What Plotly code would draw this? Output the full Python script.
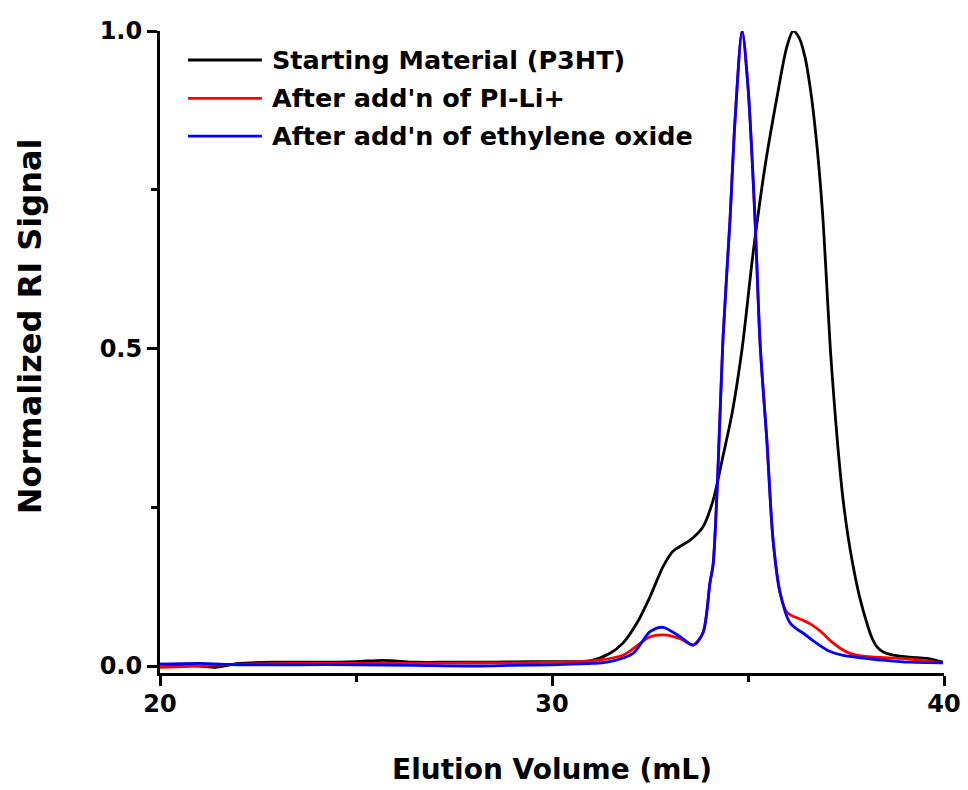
import plotly.graph_objects as go

# ---------------- data ----------------
black_x = [20.0, 20.8, 21.4, 22.0, 23.0, 24.0, 25.0, 25.7, 26.5, 27.5, 28.5, 29.5, 30.3,
           30.97, 31.48, 31.81, 32.17, 32.50, 32.83, 33.09, 33.52, 33.85, 34.11, 34.36,
           34.60, 34.85, 35.13, 35.43, 35.74, 35.99, 36.15, 36.30, 36.45, 36.60, 36.75,
           36.90, 37.00, 37.10, 37.20, 37.30, 37.42, 37.55, 37.68, 37.85, 38.04, 38.15,
           38.29, 38.45, 38.70, 39.13, 39.57, 39.97]
black_y = [0.003, 0.001, -0.002, 0.004, 0.006, 0.006, 0.007, 0.009, 0.006, 0.006, 0.006, 0.007, 0.007,
           0.008, 0.020, 0.036, 0.068, 0.109, 0.156, 0.181, 0.198, 0.219, 0.261, 0.330,
           0.400, 0.500, 0.650, 0.785, 0.896, 0.975, 1.000, 0.990, 0.960, 0.905, 0.825,
           0.715, 0.610, 0.500, 0.415, 0.340, 0.265, 0.205, 0.158, 0.108, 0.066, 0.046,
           0.030, 0.022, 0.017, 0.014, 0.012, 0.006]

red_x = [20.0, 21.0, 22.0, 23.5, 25.0, 26.5, 28.0, 29.0, 30.0, 31.0, 31.81, 32.50, 32.83,
         33.27, 33.60, 33.85, 34.03, 34.11, 34.23, 34.36, 34.54, 34.67, 34.85, 35.00,
         35.18, 35.31, 35.48, 35.64, 35.82, 35.99, 36.20, 36.40, 36.60, 36.90, 37.10,
         37.35, 37.60, 38.00, 38.50, 39.13, 39.97]
red_y = [-0.002, 0.000, 0.003, 0.004, 0.004, 0.004, 0.005, 0.005, 0.006, 0.008, 0.017, 0.046, 0.049,
         0.043, 0.033, 0.052, 0.131, 0.160, 0.304, 0.513, 0.702, 0.860, 1.000, 0.912,
         0.702, 0.506, 0.356, 0.198, 0.115, 0.085, 0.077, 0.072, 0.066, 0.052, 0.040,
         0.028, 0.020, 0.015, 0.013, 0.011, 0.005]

blue_x = [20.0, 21.0, 22.0, 23.5, 25.0, 26.5, 28.0, 29.0, 30.0, 31.0, 31.40, 32.07, 32.50,
          32.83, 33.27, 33.60, 33.85, 34.03, 34.11, 34.23, 34.36, 34.54, 34.67, 34.85,
          35.00, 35.18, 35.31, 35.48, 35.64, 35.82, 36.07, 36.25, 36.40, 36.70, 37.02,
          37.40, 37.86, 38.50, 39.13, 39.97]
blue_y = [0.003, 0.004, 0.002, 0.002, 0.002, 0.001, 0.000, 0.001, 0.002, 0.004, 0.006, 0.020, 0.054,
          0.061, 0.046, 0.033, 0.052, 0.131, 0.160, 0.304, 0.513, 0.702, 0.860, 1.000,
          0.912, 0.702, 0.506, 0.356, 0.198, 0.115, 0.068, 0.058, 0.052, 0.038, 0.025,
          0.017, 0.013, 0.009, 0.006, 0.005]

series_names = ["Starting Material (P3HT)", "After add'n of PI-Li+", "After add'n of ethylene oxide"]
series_colors = ["#000000", "#ff0000", "#0000ff"]
x_ticks = [20, 30, 40]
y_ticks = [0.0, 0.5, 1.0]
x_title = "Elution Volume (mL)"
y_title = "Normalized RI Signal"

FONT = "DejaVu Sans"

fig = go.Figure()
for xs, ys, name, col in zip([black_x, red_x, blue_x], [black_y, red_y, blue_y],
                             series_names, series_colors):
    fig.add_trace(go.Scatter(x=xs, y=ys, mode="lines", name=name,
                             line=dict(color=col, width=2.8, shape="spline", smoothing=0.8),
                             showlegend=False))

# manual legend (lines + labels in paper coordinates)
leg_y = [0.9548, 0.8950, 0.8364]
for name, col, yy in zip(series_names, series_colors, leg_y):
    fig.add_shape(type="line", xref="paper", yref="paper", x0=0.0357, x1=0.1300,
                  y0=yy, y1=yy, line=dict(color=col, width=2.8))
    fig.add_annotation(xref="paper", yref="paper", x=0.140, y=yy, text=f"<b>{name}</b>",
                       showarrow=False, xanchor="left", yanchor="middle",
                       font=dict(family=FONT, size=25.5, color="black"))

# axis titles
fig.add_annotation(xref="paper", yref="paper", x=0.5, y=-0.151, text=f"<b>{x_title}</b>",
                   showarrow=False, xanchor="center", yanchor="middle",
                   font=dict(family=FONT, size=28, color="black"))
fig.add_annotation(xref="paper", yref="paper", x=-0.166, y=0.54, text=f"<b>{y_title}</b>",
                   showarrow=False, xanchor="center", yanchor="middle", textangle=-90,
                   font=dict(family=FONT, size=32, color="black"))

fig.update_xaxes(range=[20, 40], tickvals=x_ticks, ticktext=[f"<b>{v}</b>" for v in x_ticks],
                 automargin=False,
                 showline=True, linecolor="black", linewidth=3, mirror=False,
                 ticks="outside", ticklen=10, tickwidth=3, tickcolor="black",
                 minor=dict(tickvals=[25, 35], ticks="outside", ticklen=6, tickwidth=3,
                            tickcolor="black", showgrid=False),
                 showgrid=False, zeroline=False, ticklabelstandoff=-3,
                 tickfont=dict(family=FONT, size=24, color="black"))
fig.update_yaxes(range=[-0.011, 1.0], tickvals=y_ticks,
                 ticktext=[f"<b>{v:.1f}</b>" for v in y_ticks],
                 automargin=False,
                 showline=True, linecolor="black", linewidth=3, mirror=False,
                 ticks="outside", ticklen=10, tickwidth=3, tickcolor="black",
                 minor=dict(tickvals=[0.25, 0.75], ticks="outside", ticklen=6, tickwidth=3,
                            tickcolor="black", showgrid=False),
                 showgrid=False, zeroline=False,
                 tickfont=dict(family=FONT, size=24, color="black"))

fig.update_layout(width=968, height=790,
                  margin=dict(l=160, r=24, t=31, b=117, pad=0),
                  plot_bgcolor="white", paper_bgcolor="white",
                  showlegend=False)

fig.write_html("out.html")
